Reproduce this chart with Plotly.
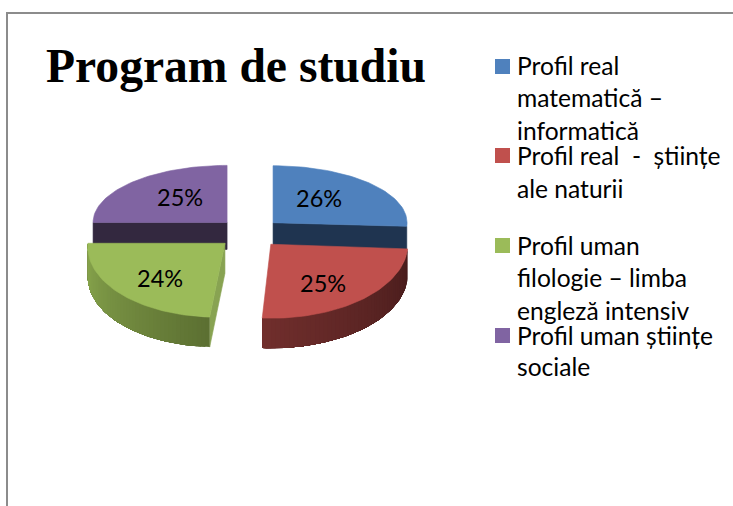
import math
import plotly.graph_objects as go

# --- data ---
categories = ["Profil real matematică – informatică", "Profil real  -  științe ale naturii",
              "Profil uman filologie – limba engleză intensiv", "Profil uman științe sociale"]
values = [26, 25, 24, 25]
legend_lines = [
    ["Profil real", "matematică –", "informatică"],
    ["Profil real  -  științe", "ale naturii"],
    ["Profil uman", "filologie – limba", "engleză intensiv"],
    ["Profil uman științe", "sociale"],
]
title_text = "Program de studiu"

# --- style ---
top_colors = ["#4F81BD", "#C0504D", "#9BBB59", "#8064A2"]
face_colors = ["#1F3450", "#000000", "#88A352", "#33283F"]
wall_from = [None, (72, 28, 28), (92, 112, 50), None]   # gradient at slice start angle
wall_to = [None, (112, 46, 44), (138, 168, 78), None]   # gradient at slice end angle
CX, CY = 249, 233
PULL_X = [33, 33, 33, 31]
PULL_Y = 15
RX_BACK, RY_BACK = 134, 57
RX_FRONT, RY_FRONT = 137, 74
DEPTH_BACK, DEPTH_FRONT = 27, 30
SHEAR = [0, 0, -0.09, 0]
LABEL_FX = [0.47, 0.58, 0.65, 0.50]
LABEL_FY = [0.64, 0.70, 0.68, 0.62]
LEGEND_X_SWATCH, LEGEND_X_TEXT = 502.5, 514.5
LEGEND_SWATCH_Y = [66.5, 155.5, 245.5, 335.5]
LEGEND_TEXT_Y = [[65, 97, 130], [155, 188], [245, 277, 310], [335, 366]]
FONT = "Lato"
LEGEND_SIZE = 24.6
LABEL_SIZE = 23.5
TITLE_SIZE = 47.6

fig = go.Figure()


def poly(xs, ys, color, width=0.6):
    fig.add_trace(go.Scatter(x=xs, y=ys, mode="lines", fill="toself", fillcolor=color,
                             line=dict(color=color, width=width), hoverinfo="skip",
                             showlegend=False))


total = sum(values)
slices = []
start = 0.0
for i, v in enumerate(values):
    end = start + 360.0 * v / total
    mid = math.radians((start + end) / 2)
    front = i in (1, 2)
    rx = RX_FRONT if front else RX_BACK
    ry = RY_FRONT if front else RY_BACK
    d = DEPTH_FRONT if front else DEPTH_BACK
    ax = CX + PULL_X[i] * math.sin(mid)
    ay = CY - PULL_Y * math.cos(mid)

    def pt(deg, rx=rx, ry=ry, ax=ax, ay=ay, sh=SHEAR[i]):
        t = math.radians(deg)
        yy = -ry * math.cos(t)
        return ax + rx * math.sin(t) + sh * yy, ay + yy

    slices.append(dict(i=i, start=start, end=end, mid=mid, rx=rx, ry=ry, d=d, ax=ax, ay=ay, pt=pt))
    start = end


def arc(s, n=48):
    return [s["pt"](s["start"] + (s["end"] - s["start"]) * k / n) for k in range(n + 1)]


def draw(s):
    i = s["i"]
    a = arc(s)
    d = s["d"]
    cut = {0: a[-1], 2: a[0], 3: a[0]}.get(i)
    if cut is not None:      # flat cut face visible to the viewer
        poly([s["ax"], cut[0], cut[0], s["ax"], s["ax"]],
             [s["ay"], cut[1], cut[1] + d, s["ay"] + d, s["ay"]], face_colors[i])
    if wall_from[i]:
        n = len(a) - 1
        for k in range(n):
            f = k / (n - 1)
            c = [round(wall_from[i][j] + (wall_to[i][j] - wall_from[i][j]) * f) for j in range(3)]
            rest = a[k:]
            xs = [p[0] for p in rest] + [p[0] for p in reversed(rest)]
            ys = [p[1] for p in rest] + [p[1] + d for p in reversed(rest)]
            poly(xs + xs[:1], ys + ys[:1], "rgb(%d,%d,%d)" % tuple(c), width=0)
    xs = [s["ax"]] + [p[0] for p in a] + [s["ax"]]
    ys = [s["ay"]] + [p[1] for p in a] + [s["ay"]]
    poly(xs, ys, top_colors[i])


for idx in (3, 0, 2, 1):
    draw(slices[idx])

annotations = []
for s, v, fx, fy in zip(slices, values, LABEL_FX, LABEL_FY):
    annotations.append(dict(
        x=s["ax"] + fx * s["rx"] * math.sin(s["mid"]),
        y=s["ay"] - fy * s["ry"] * math.cos(s["mid"]),
        text="%d%%" % round(100 * v / total), showarrow=False,
        font=dict(family=FONT, size=LABEL_SIZE, color="#000000")))

# legend
for name, color, sy, lines, ys in zip(categories, top_colors, LEGEND_SWATCH_Y, legend_lines, LEGEND_TEXT_Y):
    fig.add_trace(go.Scatter(x=[LEGEND_X_SWATCH], y=[sy], mode="markers", name=name,
                             marker=dict(symbol="square", size=15, color=color),
                             showlegend=False, hoverinfo="name"))
    for line, y in zip(lines, ys):
        annotations.append(dict(x=LEGEND_X_TEXT, y=y, xanchor="left", text=line.replace("  ", "\u00a0\u00a0"),
                                showarrow=False, font=dict(family=FONT, size=LEGEND_SIZE, color="#000000")))

annotations.append(dict(x=44, y=66, xanchor="left", text="<b>%s</b>" % title_text, showarrow=False,
                        font=dict(family="Liberation Serif", size=TITLE_SIZE, color="#000000")))

fig.update_layout(
    width=733, height=506, margin=dict(l=0, r=0, t=0, b=0),
    paper_bgcolor="white", plot_bgcolor="white",
    xaxis=dict(range=[0, 733], visible=False, fixedrange=True),
    yaxis=dict(range=[506, 0], visible=False, fixedrange=True),
    annotations=annotations,
    shapes=[
        dict(type="line", xref="x", yref="y", x0=6, x1=733, y0=13, y1=13, line=dict(color="#8C8C8C", width=2)),
        dict(type="line", xref="x", yref="y", x0=7, x1=7, y0=13, y1=506, line=dict(color="#8C8C8C", width=2)),
    ],
)
fig.write_html("out.html", config=dict(displayModeBar=False),
               post_script="document.body.style.margin='0';")
